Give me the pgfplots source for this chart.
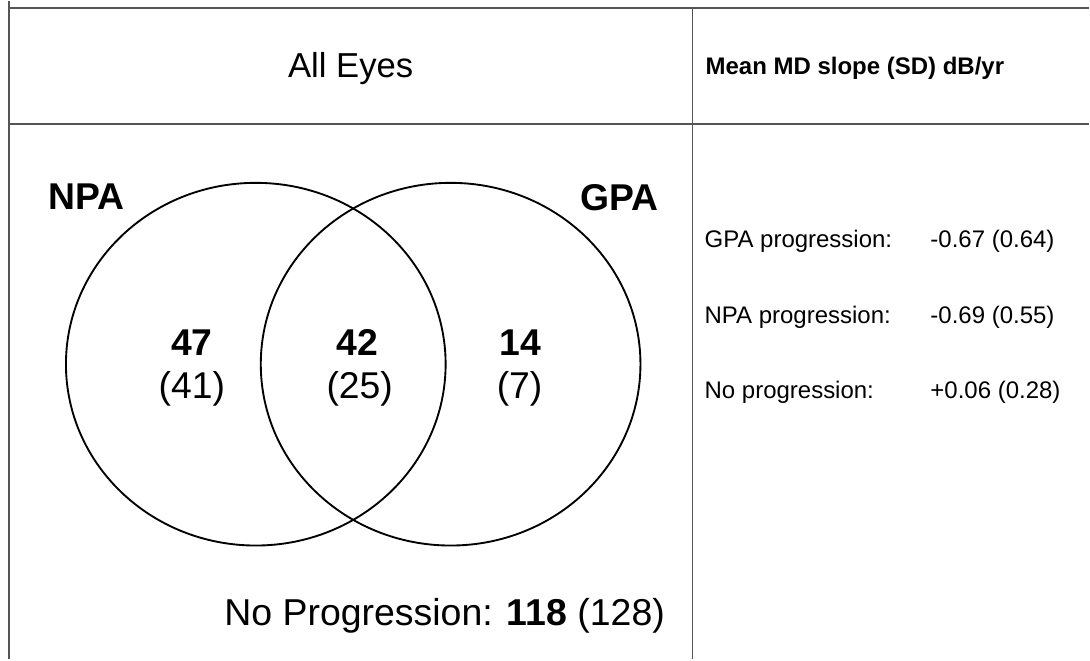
\documentclass[border=0pt]{standalone}
\usepackage{fontspec}
\setmainfont{Liberation Sans}
\usepackage{pgfplots}
\usepackage{pgfplotstable}
\pgfplotsset{compat=1.18}
\definecolor{rule}{RGB}{85,85,85}

% Venn region counts (bold) and counts in parentheses
\pgfplotstableread{
x   y   n
192 304 47
358 304 42
521 304 14
}\maincounts
\pgfplotstableread{
x   y   n
192 261 41
360 261 25
520 261 7
}\parcounts

\begin{document}
\begin{tikzpicture}
\begin{axis}[
  width=817.5pt, height=494.25pt, scale only axis,
  xmin=0, xmax=1090, ymin=0, ymax=659,
  hide axis, clip=false,
]
\path (axis cs:0,0) rectangle (axis cs:1090,659);
% table rules
\draw[rule, line width=1.3pt] (axis cs:9,652) -- (axis cs:1090,652);
\draw[rule, line width=1.4pt] (axis cs:9,536) -- (axis cs:1090,536);
\draw[rule, line width=1.5pt] (axis cs:9,659) -- (axis cs:9,0);
\draw[rule, line width=0.9pt] (axis cs:693,652) -- (axis cs:693,0);

% circles
\draw[black, line width=1.4pt] (axis cs:256,295.5) ellipse [x radius=190, y radius=181.5];
\draw[black, line width=1.4pt] (axis cs:451,295.5) ellipse [x radius=190, y radius=181.5];

% counts
\addplot[draw=none, nodes near coords, point meta=explicit symbolic,
  nodes near coords style={anchor=base, inner sep=0pt, font=\fontsize{28}{34}\selectfont\bfseries}]
  table[x=x, y=y, meta=n] {\maincounts};
\addplot[draw=none, nodes near coords={(\pgfplotspointmeta)}, point meta=explicit symbolic,
  nodes near coords style={anchor=base, inner sep=0pt, font=\fontsize{28}{34}\selectfont}]
  table[x=x, y=y, meta=n] {\parcounts};

% labels
\node[anchor=base, inner sep=0pt, font=\fontsize{26}{31}\selectfont] at (axis cs:351,582) {All Eyes};
\node[anchor=base west, inner sep=0pt, font=\fontsize{18}{22}\selectfont\bfseries] at (axis cs:706,585) {Mean MD slope (SD) dB/yr};
\node[anchor=base, inner sep=0pt, font=\fontsize{28}{34}\selectfont\bfseries] at (axis cs:87,450) {NPA};
\node[anchor=base, inner sep=0pt, font=\fontsize{28}{34}\selectfont\bfseries] at (axis cs:620,449) {GPA};
\node[anchor=base, inner sep=0pt, font=\fontsize{28.1}{34}\selectfont] at (axis cs:445,34) {No Progression: \textbf{118} (128)};

\node[anchor=base west, inner sep=0pt, font=\fontsize{18}{22}\selectfont] at (axis cs:705,412) {GPA progression:};
\node[anchor=base west, inner sep=0pt, font=\fontsize{18}{22}\selectfont] at (axis cs:931,412) {-0.67 (0.64)};
\node[anchor=base west, inner sep=0pt, font=\fontsize{18}{22}\selectfont] at (axis cs:705,336) {NPA progression:};
\node[anchor=base west, inner sep=0pt, font=\fontsize{18}{22}\selectfont] at (axis cs:931,336) {-0.69 (0.55)};
\node[anchor=base west, inner sep=0pt, font=\fontsize{18}{22}\selectfont] at (axis cs:705,261) {No progression:};
\node[anchor=base west, inner sep=0pt, font=\fontsize{18}{22}\selectfont] at (axis cs:931,261) {+0.06 (0.28)};
\end{axis}
\end{tikzpicture}
\end{document}
